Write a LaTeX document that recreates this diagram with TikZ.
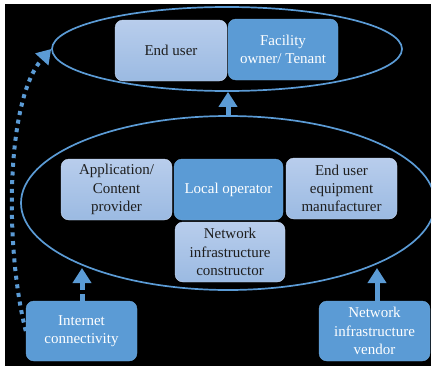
\documentclass[tikz,border=0pt]{standalone}
\usepackage{fontspec}
\setmainfont{Liberation Serif}
\newfontfamily\boxserif{Liberation Serif}
\usetikzlibrary{arrows.meta,shapes.geometric}
\definecolor{ebl}{HTML}{5B9BD5}
\definecolor{lbtop}{HTML}{B8CDEC}
\definecolor{lbbot}{HTML}{9BBAE2}
\definecolor{txd}{HTML}{1E1E1E}
\tikzset{
  boxbase/.style={rounded corners=8pt, minimum height=61pt, align=center, inner sep=1pt,
    font=\boxserif\fontsize{15}{18.3}\selectfont},
  lightbox/.style={boxbase, top color=lbtop, bottom color=lbbot, draw=lbtop!80!white, line width=0.4pt, text=txd},
  darkbox/.style={boxbase, fill=ebl, draw=ebl!90!white, line width=0.4pt, text=white},
  ring/.style={ellipse, draw=ebl, line width=1.7pt, inner sep=0pt},
  uparr/.style={draw=ebl, line width=5pt, -{Triangle[width=18pt,length=15pt]}},
}
\begin{document}
\begin{tikzpicture}[x=1pt,y=-1pt]
\useasboundingbox (0,0) rectangle (433,372);
\fill[white] (0,0) rectangle (433,372);
\fill[black] (5,4) rectangle (431,366);
% ellipses
\begin{scope}
\clip (5,4) rectangle (431,366);
\node[ring, minimum width=350pt, minimum height=84pt] (top) at (227,49) {};
\node[ring, minimum width=414pt, minimum height=174pt] (low) at (228,203) {};
\end{scope}
% top boxes
\node[lightbox, minimum width=112pt] (eu) at (171,50.5) {End user};
\node[darkbox, minimum width=110pt] (fo) at (283,49.5) {Facility\\owner/ Tenant};
% lower boxes
\node[lightbox, minimum width=111pt] (app) at (116.5,189.5) {Application/\\Content\\provider};
\node[darkbox, minimum width=109pt] (lo) at (228.5,189.5) {Local operator};
\node[lightbox, minimum width=111pt] (eue) at (341.5,188.5) {End user\\equipment\\manufacturer};
\node[lightbox, minimum width=110pt, minimum height=60pt] (nic) at (230,252) {Network\\infrastructure\\constructor};
% bottom boxes
\node[darkbox, minimum width=111pt, minimum height=60pt] (inet) at (81.5,331) {Internet\\connectivity};
\node[darkbox, minimum width=111pt, minimum height=60pt] (niv) at (374.5,331) {Network\\infrastructure\\vendor};
% arrows
\coordinate (tl) at (82,268);
\coordinate (tr) at (377,268);
\draw[uparr] (low.north) -- (low.north |- top.south);
\draw[uparr, dash pattern=on 7pt off 4pt] (inet.north -| tl) -- (tl);
\draw[uparr] (niv.north -| tr) -- (tr);
\draw[draw=ebl, line width=4pt, dash pattern=on 4pt off 4.7pt, -{Triangle[width=17pt,length=14pt]}]
  (inet.west) .. controls (5,250) and (5,100) .. (top.west);
\end{tikzpicture}
\end{document}
